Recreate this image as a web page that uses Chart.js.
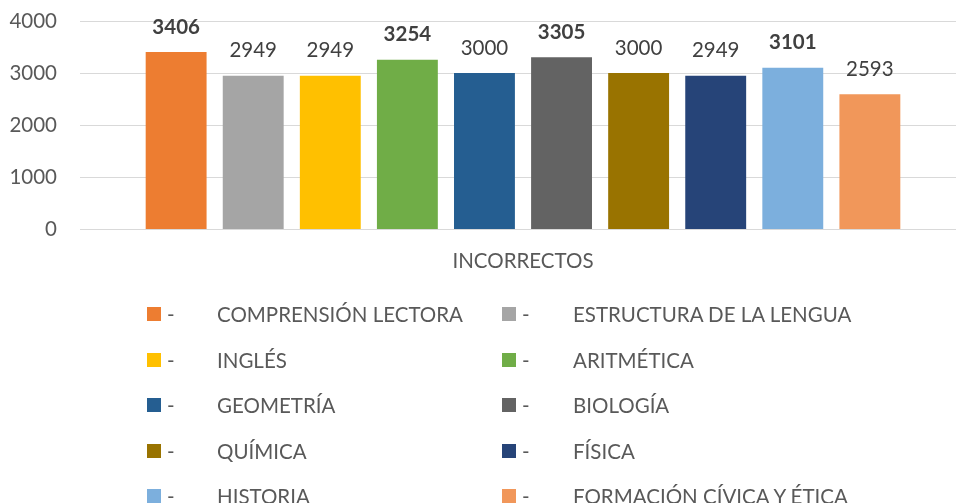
<!DOCTYPE html>
<html>
<head>
<meta charset="utf-8">
<script src="https://cdn.jsdelivr.net/npm/chart.js@4/dist/chart.umd.min.js"></script>
<style>
  body { margin: 0; overflow: hidden; background: #fff; font-family: Lato, sans-serif; }
  #wrap { position: relative; width: 966px; height: 298px; }
  #legend { position: absolute; left: 0; top: 0; width: 956px; height: 503px; pointer-events: none; }
  .item { position: absolute; height: 30px; font-size: 20.5px; color: #595959; }
  .item span { position: absolute; top: 0; line-height: 30px; white-space: nowrap; }
  .item .box { width: 14px; height: 14px; top: 8px; }
</style>
</head>
<body>
<div id="wrap"><canvas id="barChart"></canvas></div>
<div id="legend"></div>
<script>
// data
const subjects = ['COMPRENSIÓN LECTORA', 'ESTRUCTURA DE LA LENGUA', 'INGLÉS', 'ARITMÉTICA', 'GEOMETRÍA',
                  'BIOLOGÍA', 'QUÍMICA', 'FÍSICA', 'HISTORIA', 'FORMACIÓN CÍVICA Y ÉTICA'];
const incorrectos = [3406, 2949, 2949, 3254, 3000, 3305, 3000, 2949, 3101, 2593];
const groupLabels = ['INCORRECTOS'];
const yTicks = [0, 1000, 2000, 3000, 4000];

const colors = ['#ED7D31', '#A5A5A5', '#FFC000', '#70AD47', '#255E91',
                '#636363', '#997300', '#264478', '#7CAFDD', '#F1975A'];
// labels drawn in bold in the original
const boldLabels = [0, 3, 5, 8];

// values written above each bar
const barLabels = {
    id: 'barLabels',
    afterDatasetsDraw(chart) {
        let ctx = chart.ctx;
        ctx.save();
        ctx.textAlign = 'center';
        ctx.textBaseline = 'middle';
        ctx.fillStyle = '#404040';
        chart.data.datasets.forEach((ds, i) => {
            let bar = chart.getDatasetMeta(i).data[0];
            ctx.font = (boldLabels.includes(i) ? 'bold ' : '') + '20.5px Lato';
            ctx.fillText(ds.data[0], bar.x, bar.y - 25);
        });
        ctx.restore();
    }
};

let ctx = document.getElementById('barChart').getContext('2d');
let chart = new Chart(ctx, {
    type: 'bar',
    data: {
        labels: groupLabels,
        datasets: subjects.map((name, i) => ({
            label: name,
            data: [incorrectos[i]],
            backgroundColor: colors[i],
            categoryPercentage: 0.87,
            barPercentage: 0.79
        }))
    },
    options: {
        responsive: true,
        maintainAspectRatio: false,
        animation: false,
        layout: { padding: { top: 21, right: 0, bottom: 4, left: 0 } },
        plugins: {
            legend: { display: false },
            tooltip: { enabled: false }
        },
        scales: {
            x: {
                grid: { display: false, drawTicks: false },
                border: { display: false },
                ticks: { color: '#595959', font: { family: 'Lato', size: 20.5 }, padding: 20 }
            },
            y: {
                min: 0,
                max: 4000,
                afterBuildTicks: scale => { scale.ticks = yTicks.map(v => ({ value: v })); },
                afterFit: scale => {
                    scale.width = 80;
                    // the tick padding is only meant to push labels left, not down
                    scale.paddingTop = 12;
                    scale.paddingBottom = 12;
                },
                grid: { color: '#D9D9D9', lineWidth: 1, drawTicks: false },
                border: { display: false },
                ticks: {
                    color: '#595959',
                    font: { family: 'Lato', size: 20.5 },
                    padding: 23,
                    callback: v => String(v)
                }
            }
        }
    },
    plugins: [barLabels]
});

// legend in two columns, like the original
let legend = document.getElementById('legend');
subjects.forEach((name, i) => {
    let col = i % 2, row = Math.floor(i / 2);
    let left = col === 0 ? 147 : 502;
    let item = document.createElement('div');
    item.className = 'item';
    item.style.left = left + 'px';
    item.style.top = (314 + row * 45.5 - 15) + 'px';
    item.innerHTML = '<span class="box" style="left:0;background:' + colors[i] + '"></span>' +
        '<span style="left:20px">-</span>' +
        '<span style="left:' + (col === 0 ? 70 : 71) + 'px">' + name + '</span>';
    legend.appendChild(item);
});
</script>
</body>
</html>
